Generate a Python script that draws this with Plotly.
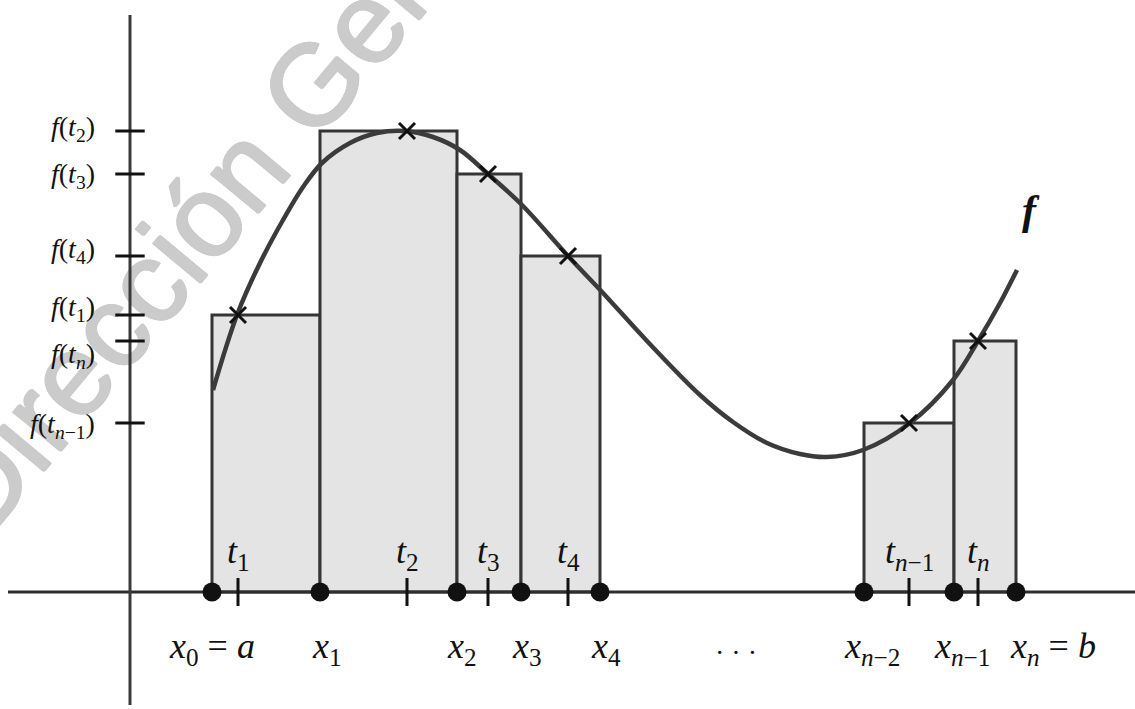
import plotly.graph_objects as go

# ---------------- data (units: screen-like, y measured up from the x-axis) ----------------
PARTITION_X = [212, 320, 457, 521, 600, 864, 954, 1016]          # x0..x4, x_{n-2}, x_{n-1}, x_n
PARTITION_LABELS = ["<i>x</i><sub>0</sub> = <i>a</i>", "<i>x</i><sub>1</sub>", "<i>x</i><sub>2</sub>",
                    "<i>x</i><sub>3</sub>", "<i>x</i><sub>4</sub>", "<i>x</i><sub><i>n</i>−2</sub>",
                    "<i>x</i><sub><i>n</i>−1</sub>", "<i>x</i><sub><i>n</i></sub> = <i>b</i>"]
BAR_INTERVALS = [0, 1, 2, 3, 5, 6]                                 # interval index i -> [x_i, x_{i+1}]
TAG_X = [238, 407, 488, 568, 909, 978]                             # t1..t4, t_{n-1}, t_n
TAG_LABELS = ["<i>t</i><sub>1</sub>", "<i>t</i><sub>2</sub>", "<i>t</i><sub>3</sub>", "<i>t</i><sub>4</sub>",
              "<i>t</i><sub><i>n</i>−1</sub>", "<i>t</i><sub><i>n</i></sub>"]
F_AT_TAG = [277, 461, 418, 336, 169, 251]                          # f(t_i)
F_LABELS = ["<i>f</i>(<i>t</i><sub>1</sub>)", "<i>f</i>(<i>t</i><sub>2</sub>)", "<i>f</i>(<i>t</i><sub>3</sub>)",
            "<i>f</i>(<i>t</i><sub>4</sub>)", "<i>f</i>(<i>t</i><sub><i>n</i>−1</sub>)", "<i>f</i>(<i>t</i><sub><i>n</i></sub>)"]
CURVE_X = [213, 237, 260, 283, 303, 322, 350, 377, 405, 433, 460, 488, 522, 568, 603, 647, 700,
           733, 767, 800, 827, 863, 910, 953, 978, 1000, 1017]
CURVE_Y = [202, 277, 329, 372, 405, 429, 449, 459, 461, 455, 442, 418, 387, 336, 299, 251, 197,
           170, 149, 138, 135, 142, 169, 212, 251, 289, 322]
X_AXIS_SPAN = [8, 1135]
Y_AXIS_X = 130
Y_AXIS_SPAN = [-113, 577]
WATERMARK = "Dirección General"

# ---------------- figure ----------------
INK = "#111111"
SERIF = "Liberation Serif"
WM_GREY = "#cbcbcb"
fig = go.Figure()

# watermark, drawn underneath everything
wm_cx, wm_cy, wm_dx, wm_dy = 243, 440, 64, 77
thick = ", ".join(f"{a}px {b}px 0 {WM_GREY}" for a, b in [(1, 0), (-1, 0), (0, 1), (0, -1), (1, 1), (-1, -1)])
fig.add_shape(type="line", x0=wm_cx - wm_dx, y0=wm_cy - wm_dy, x1=wm_cx + wm_dx, y1=wm_cy + wm_dy,
              layer="below", line=dict(color="rgba(0,0,0,0)", width=0),
              label=dict(text=WATERMARK, textposition="middle", yanchor="middle",
                         font=dict(family="Liberation Sans", size=116, color=WM_GREY, shadow=thick)))

bar_left = [PARTITION_X[i] for i in BAR_INTERVALS]
bar_w = [PARTITION_X[i + 1] - PARTITION_X[i] for i in BAR_INTERVALS]
fig.add_trace(go.Bar(x=bar_left, y=F_AT_TAG, width=bar_w, offset=0,
                     marker=dict(color="#e4e4e4", line=dict(color="#353535", width=3))))

fig.add_trace(go.Scatter(x=CURVE_X, y=CURVE_Y, mode="lines",
                         line=dict(color="#3b3b3b", width=4.5, shape="spline", smoothing=1.0)))

fig.add_trace(go.Scatter(x=X_AXIS_SPAN, y=[0, 0], mode="lines", line=dict(color="#2e2e2e", width=3)))
fig.add_trace(go.Scatter(x=[Y_AXIS_X, Y_AXIS_X], y=Y_AXIS_SPAN, mode="lines",
                         line=dict(color="#3a3a3a", width=3)))

# ticks
fig.add_trace(go.Scatter(x=TAG_X, y=[0] * len(TAG_X), mode="markers",
                         marker=dict(symbol="line-ns", size=20, line=dict(color=INK, width=3))))
fig.add_trace(go.Scatter(x=[Y_AXIS_X] * len(F_AT_TAG), y=F_AT_TAG, mode="markers",
                         marker=dict(symbol="line-ew", size=21, line=dict(color=INK, width=3))))
# partition dots
fig.add_trace(go.Scatter(x=PARTITION_X, y=[0] * len(PARTITION_X), mode="markers",
                         marker=dict(symbol="circle", size=19, color=INK)))
# sample points
fig.add_trace(go.Scatter(x=TAG_X, y=F_AT_TAG, mode="markers",
                         marker=dict(symbol="x-thin", size=16, line=dict(color=INK, width=3))))

ann = []
# partition labels
px_nudge = [0, 7, 5, 6, 6, 8, 8, -8]
px_anchor = ["center"] * 7 + ["left"]
for x, lab, dx, an in zip(PARTITION_X, PARTITION_LABELS, px_nudge, px_anchor):
    ann.append(dict(x=x + dx, y=-56, text=lab, xanchor=an, yanchor="middle", showarrow=False,
                    font=dict(family=SERIF, size=36, color=INK)))
ann.append(dict(x=(PARTITION_X[4] + PARTITION_X[5]) / 2 + 4, y=-60, text="· · ·", showarrow=False,
                font=dict(family=SERIF, size=28, color=INK)))
# t labels
for x, lab in zip(TAG_X, TAG_LABELS):
    ann.append(dict(x=x, y=39, text=lab, showarrow=False, xanchor="center", yanchor="middle",
                    font=dict(family=SERIF, size=36, color=INK)))
# f(t) labels
fy_nudge = [7, 3, -1, 6, -2, -14]
for y, lab, dy in zip(F_AT_TAG, F_LABELS, fy_nudge):
    ann.append(dict(x=97, y=y + dy, text=lab, showarrow=False, xanchor="right", yanchor="middle",
                    font=dict(family=SERIF, size=28, color=INK)))
# function name
ann.append(dict(x=1031, y=382, text="<b><i>f</i></b>", showarrow=False,
                font=dict(family=SERIF, size=42, color=INK)))

fig.update_layout(
    width=1135, height=709, margin=dict(l=0, r=0, t=0, b=0),
    paper_bgcolor="white", plot_bgcolor="white", showlegend=False,
    xaxis=dict(range=[0, 1135], visible=False, fixedrange=True),
    yaxis=dict(range=[-117, 592], visible=False, fixedrange=True),
    annotations=ann,
)
fig.write_html("out.html", config={"displayModeBar": False},
               post_script="document.body.style.margin='0px';")
